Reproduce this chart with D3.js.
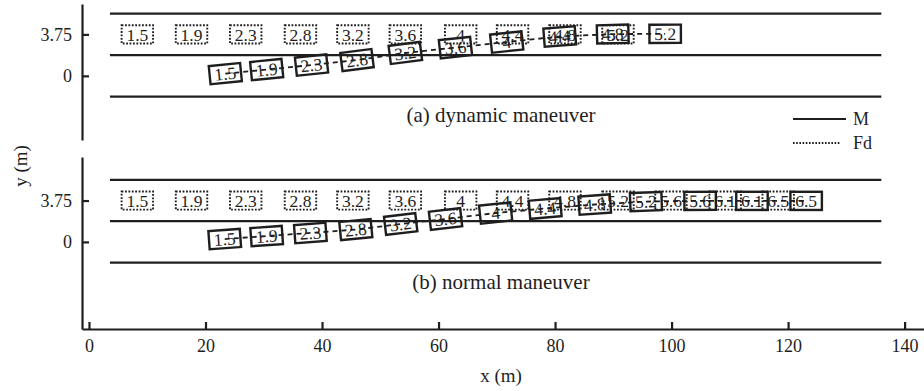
<!DOCTYPE html>
<html>
<head>
<meta charset="utf-8">
<script src="https://cdn.jsdelivr.net/npm/d3@7"></script>
<style>
body { margin: 0; background: #fff; }
svg { display: block; font-family: "Liberation Serif", "Times New Roman", serif; }
</style>
</head>
<body>
<svg id="chart" width="924" height="391"></svg>
<script>
// time stamps (s) written in the boxes
const timesA = ["1.5", "1.9", "2.3", "2.8", "3.2", "3.6", "4", "4.4", "4.8", "5.2"];
const timesB = ["1.5", "1.9", "2.3", "2.8", "3.2", "3.6", "4", "4.4", "4.8", "5.2", "5.6", "6.1", "6.5"];

// Fd vehicle (dotted), stays in the upper lane
const fdX = [8.3, 17.6, 26.9, 36.3, 45.3, 54.3, 63.8, 72.7, 81.7, 90.8, 99.9, 109.2, 118.3];
const fdY = 3.75;

// M vehicle (solid), (a) dynamic maneuver
const mXA = [23.4, 30.5, 38.2, 46.0, 54.3, 62.9, 71.7, 80.8, 89.9, 98.9];
const mYA = [0.2, 0.57, 0.98, 1.43, 2.07, 2.56, 3.06, 3.56, 3.78, 3.8];

// M vehicle (solid), (b) normal maneuver
const mXB = [23.3, 30.5, 38.0, 45.8, 53.5, 61.2, 69.8, 78.3, 86.8, 95.6, 104.9, 113.8, 123.1];
const mYB = [0.26, 0.53, 0.81, 1.12, 1.62, 2.08, 2.62, 3.03, 3.39, 3.66, 3.72, 3.72, 3.72];

const laneY = [-1.875, 1.875, 5.625];
const laneX = [3.6, 136];
const yTicks = [0, 3.75];
const xTicks = [0, 20, 40, 60, 80, 100, 120, 140];

const VEH_LEN = 5.4, VEH_WID = 1.65;
const ink = "#1e1e1e";

const svg = d3.select("#chart");

const x = d3.scaleLinear().domain([-1.2, 143.5]).range([82, 925]);

const panels = [
    { y: d3.scaleLinear().domain([-5.8, 6.5]).range([140, 4]),
      caption: "(a) dynamic maneuver", capY: 115,
      mX: mXA, mY: mYA, times: timesA },
    { y: d3.scaleLinear().domain([-7.9, 7.7]).range([329, 157]),
      caption: "(b) normal maneuver", capY: 282,
      mX: mXB, mY: mYB, times: timesB }
];

function styleAxis(g) {
    g.attr("font-family", null).attr("font-size", 18);
    g.select(".domain").attr("stroke", ink).attr("stroke-width", 2.2);
    g.selectAll(".tick line").attr("stroke", ink).attr("stroke-width", 2.2);
    g.selectAll(".tick text").attr("fill", ink);
}

panels.forEach(function(p) {
    var g = svg.append("g");
    var bw = x(VEH_LEN) - x(0),
        bh = p.y(0) - p.y(VEH_WID);

    g.append("g")
        .attr("transform", "translate(82,0)")
        .call(d3.axisLeft(p.y).tickValues(yTicks)
            .tickFormat(function(d){ return d === 0 ? "0" : "3.75"; })
            .tickSizeInner(-7).tickSizeOuter(0).tickPadding(10))
        .call(styleAxis);

    g.selectAll(".lane").data(laneY).enter().append("line")
        .attr("class", "lane")
        .attr("x1", x(laneX[0])).attr("x2", x(laneX[1]))
        .attr("y1", function(d){ return p.y(d); })
        .attr("y2", function(d){ return p.y(d); })
        .attr("stroke", ink).attr("stroke-width", 2.2);

    var pts = p.mX.map(function(v, i){ return [x(v), p.y(p.mY[i])]; });

    g.append("path")
        .attr("d", d3.line()(pts))
        .attr("fill", "none").attr("stroke", ink)
        .attr("stroke-width", 1.8).attr("stroke-dasharray", "5,4");

    // Fd boxes
    var fd = g.selectAll(".fd").data(p.times).enter().append("g")
        .attr("class", "fd")
        .attr("transform", function(d, i){ return "translate(" + x(fdX[i]) + "," + p.y(fdY) + ")"; });
    fd.append("rect")
        .attr("x", -bw / 2).attr("y", -bh / 2).attr("width", bw).attr("height", bh)
        .attr("fill", "none").attr("stroke", ink)
        .attr("stroke-width", 1.9).attr("stroke-dasharray", "1.8,1.6");
    fd.append("text")
        .attr("text-anchor", "middle").attr("dy", "0.35em")
        .attr("font-size", 17.5).attr("fill", ink)
        .text(function(d){ return d; });

    // M boxes, rotated along the path
    var m = g.selectAll(".mv").data(p.times).enter().append("g")
        .attr("class", "mv")
        .attr("transform", function(d, i) {
            var a = pts[Math.max(i - 1, 0)], b = pts[Math.min(i + 1, pts.length - 1)];
            var ang = Math.atan2(b[1] - a[1], b[0] - a[0]) * 180 / Math.PI;
            return "translate(" + pts[i][0] + "," + pts[i][1] + ") rotate(" + ang + ")";
        });
    m.append("rect")
        .attr("x", -bw / 2).attr("y", -bh / 2).attr("width", bw).attr("height", bh)
        .attr("fill", "none").attr("stroke", ink).attr("stroke-width", 2.4);
    m.append("text")
        .attr("text-anchor", "middle").attr("dy", "0.35em")
        .attr("font-size", 17.5).attr("fill", ink)
        .text(function(d){ return d; });

    g.append("text")
        .attr("x", 501).attr("y", p.capY).attr("dy", "0.35em")
        .attr("text-anchor", "middle").attr("font-size", 21).attr("fill", ink)
        .text(p.caption);
});

svg.append("g")
    .attr("transform", "translate(0,329)")
    .call(d3.axisBottom(x).tickValues(xTicks)
        .tickSizeInner(-7).tickSizeOuter(0).tickPadding(10))
    .call(styleAxis);

svg.append("text")
    .attr("x", 501).attr("y", 375).attr("dy", "0.35em")
    .attr("text-anchor", "middle").attr("font-size", 19).attr("fill", ink)
    .text("x (m)");

svg.append("text")
    .attr("transform", "translate(20,166) rotate(-90)")
    .attr("dy", "0.35em")
    .attr("text-anchor", "middle").attr("font-size", 19).attr("fill", ink)
    .text("y (m)");

// legend
var leg = svg.append("g");
leg.append("line").attr("x1", 793).attr("x2", 846).attr("y1", 119).attr("y2", 119)
    .attr("stroke", ink).attr("stroke-width", 2.2);
leg.append("line").attr("x1", 793).attr("x2", 840).attr("y1", 143).attr("y2", 143)
    .attr("stroke", ink).attr("stroke-width", 2).attr("stroke-dasharray", "1.6,1.6");
leg.append("text").attr("x", 853).attr("y", 119).attr("dy", "0.35em")
    .attr("font-size", 18).attr("fill", ink).text("M");
leg.append("text").attr("x", 853).attr("y", 143).attr("dy", "0.35em")
    .attr("font-size", 18).attr("fill", ink).text("Fd");
</script>
</body>
</html>
